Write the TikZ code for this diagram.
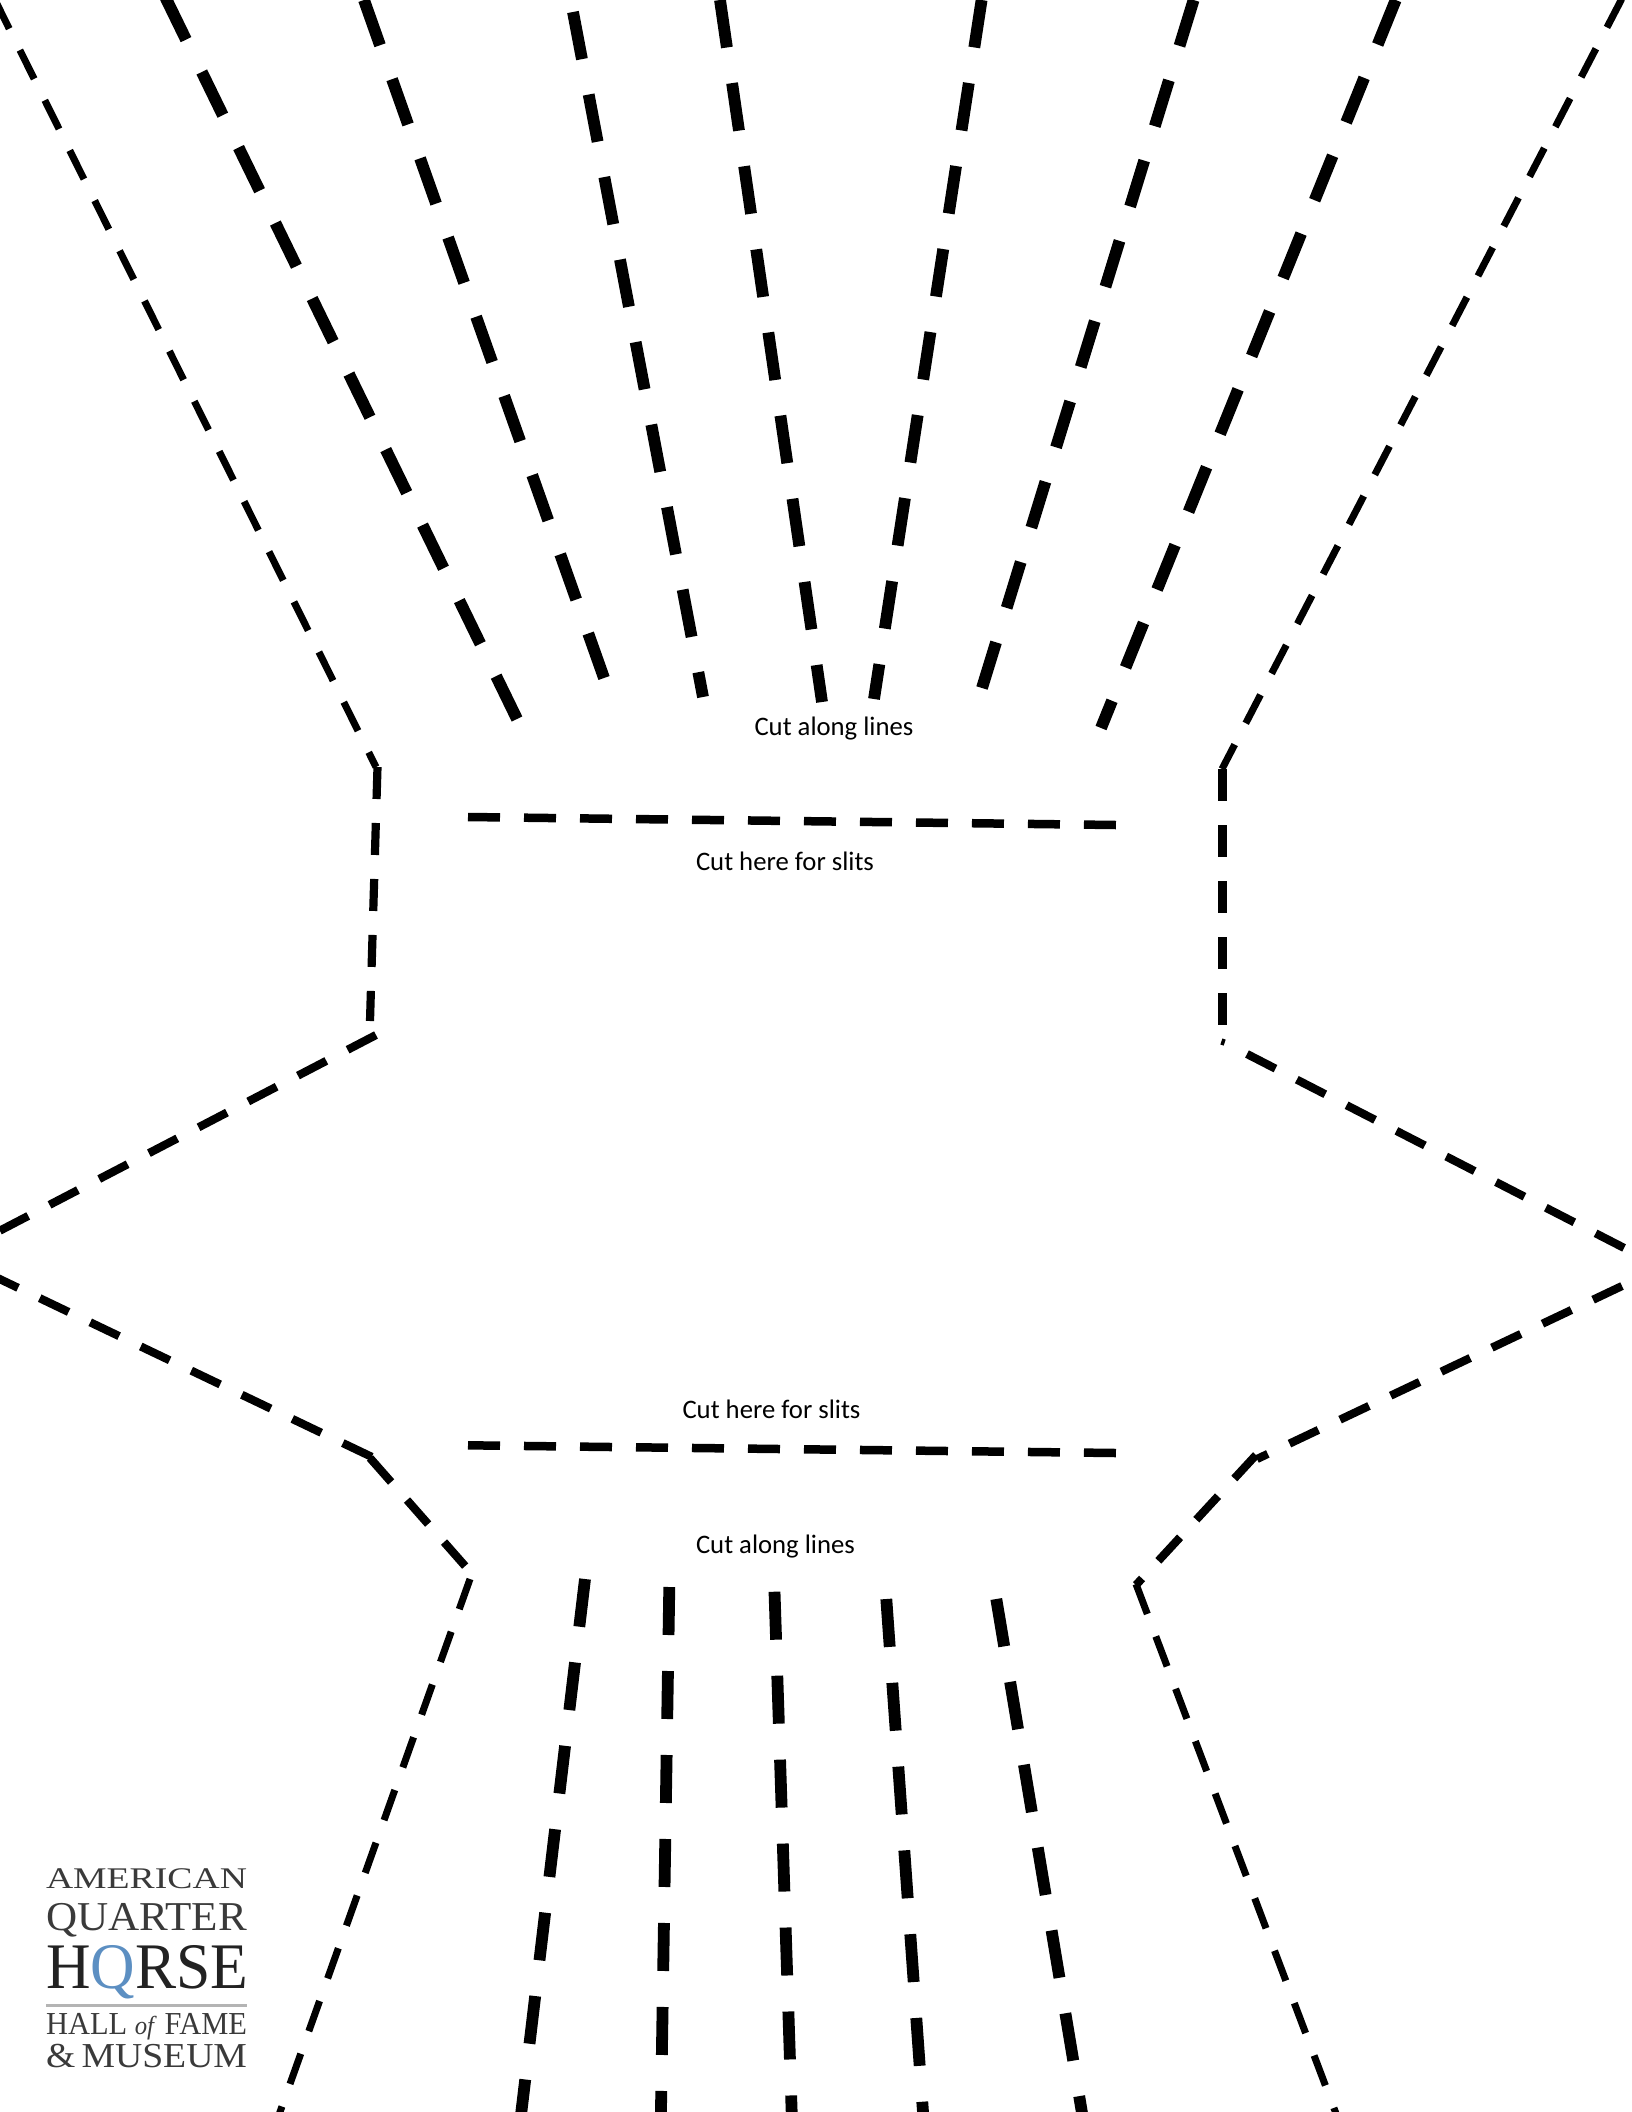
\documentclass[tikz,border=0pt]{standalone}
\usepackage{graphicx}
\usepackage{fontspec}
\setmainfont{Liberation Serif}
\newfontfamily\cutfont{Carlito}
\definecolor{logoink}{HTML}{3A3A3A}
\definecolor{logodark}{HTML}{222222}
\definecolor{logoblue}{HTML}{5C8FC2}
\definecolor{logorule}{HTML}{B4B4B4}
\tikzset{
  thinout/.style={line width=7pt,dash pattern=on 32pt off 24pt},
  midline/.style={line width=8.2pt,dash pattern=on 32pt off 24pt},
  radial/.style={line width=11.8pt,dash pattern=on 48pt off 36pt},
  slitline/.style={line width=8.5pt,dash pattern=on 32pt off 24pt},
  cutlabel/.style={anchor=base west,inner sep=0pt,outer sep=0pt,font=\cutfont\fontsize{26.7}{30}\selectfont},
  logoline/.style={anchor=base west,inner sep=0pt,outer sep=0pt,text=logoink}
}
\newcommand{\logofit}[3]{\resizebox{#1pt}{\height}{\fontsize{#2}{#2}\selectfont #3}}
\begin{document}
\begin{tikzpicture}[x=1pt,y=-1pt]
\useasboundingbox (0,0) rectangle (1632,2112);
\clip (0,0) rectangle (1632,2112);
% top fan, outer edges
\draw[thinout] (-5,0) -- (376,767);
\draw[thinout] (1621.7,-1) -- (1222,769);
% top fan, inner lines
\draw[radial] (165,-3.5) -- (517,719);
\draw[radial] (364,0) -- (604,678);
\draw[radial] (573,12) -- (703,697);
\draw[radial] (720,0) -- (822,702);
\draw[radial] (981.6,0) -- (874,699);
\draw[radial] (1193.6,0) -- (982,688);
\draw[radial] (1395.7,0) -- (1101,728);
% middle sides
\draw[midline] (377.5,767) -- (370,1021);
\draw[midline] (1222.5,769) -- (1222.5,1025);
\draw[line width=3.5pt] (1224,1039) -- (1222,1045);
\draw[midline] (376,1035) -- (-20,1241);
\draw[midline] (1247,1054) -- (1632,1252);
\draw[midline] (-10.8,1274) -- (372,1457);
\draw[midline] (1622,1286) -- (1257,1459);
\draw[midline] (370,1458) -- (466,1567);
\draw[midline] (1256,1455) -- (1136,1585);
% slits
\draw[slitline] (468,817) -- (1116,825);
\draw[slitline] (468,1445.3) -- (1116,1453);
% bottom fan
\draw[thinout] (470,1579) -- (270,2140);
\draw[thinout] (1136,1584) -- (1346,2140);
\draw[radial] (585,1579) -- (518,2140);
\draw[radial] (669.3,1587) -- (660.5,2140);
\draw[radial] (774.5,1591.7) -- (792.6,2140);
\draw[radial] (886.3,1599) -- (925,2140);
\draw[radial] (996.3,1599) -- (1086.5,2140);
% labels
\node[cutlabel] (alongtop) at (754.5,735.5) {Cut along lines};
\node[cutlabel] (slittop) at (696,870.5) {Cut here for slits};
\node[cutlabel] (slitbottom) at (682.5,1418) {Cut here for slits};
\node[cutlabel] (alongbottom) at (696,1553) {Cut along lines};
% logo
\node[logoline] (logoa) at (46,1888) {\logofit{201}{30}{AMERICAN}};
\node[logoline] (logob) at (46,1930) {\logofit{201}{41}{QUARTER}};
\node[logoline,text=logodark] (logoc) at (46,1988) {\logofit{202}{65}{H\textcolor{logoblue}{Q}RSE}};
\fill[logorule] (46,2003.5) rectangle (247,2006.5);
\node[logoline] (logod) at (46,2034) {\logofit{201}{32}{HALL \textit{\fontsize{26}{26}\selectfont of} FAME}};
\node[logoline] (logoe) at (46,2067) {\logofit{201}{35}{\&\,MUSEUM}};
\end{tikzpicture}
\end{document}
